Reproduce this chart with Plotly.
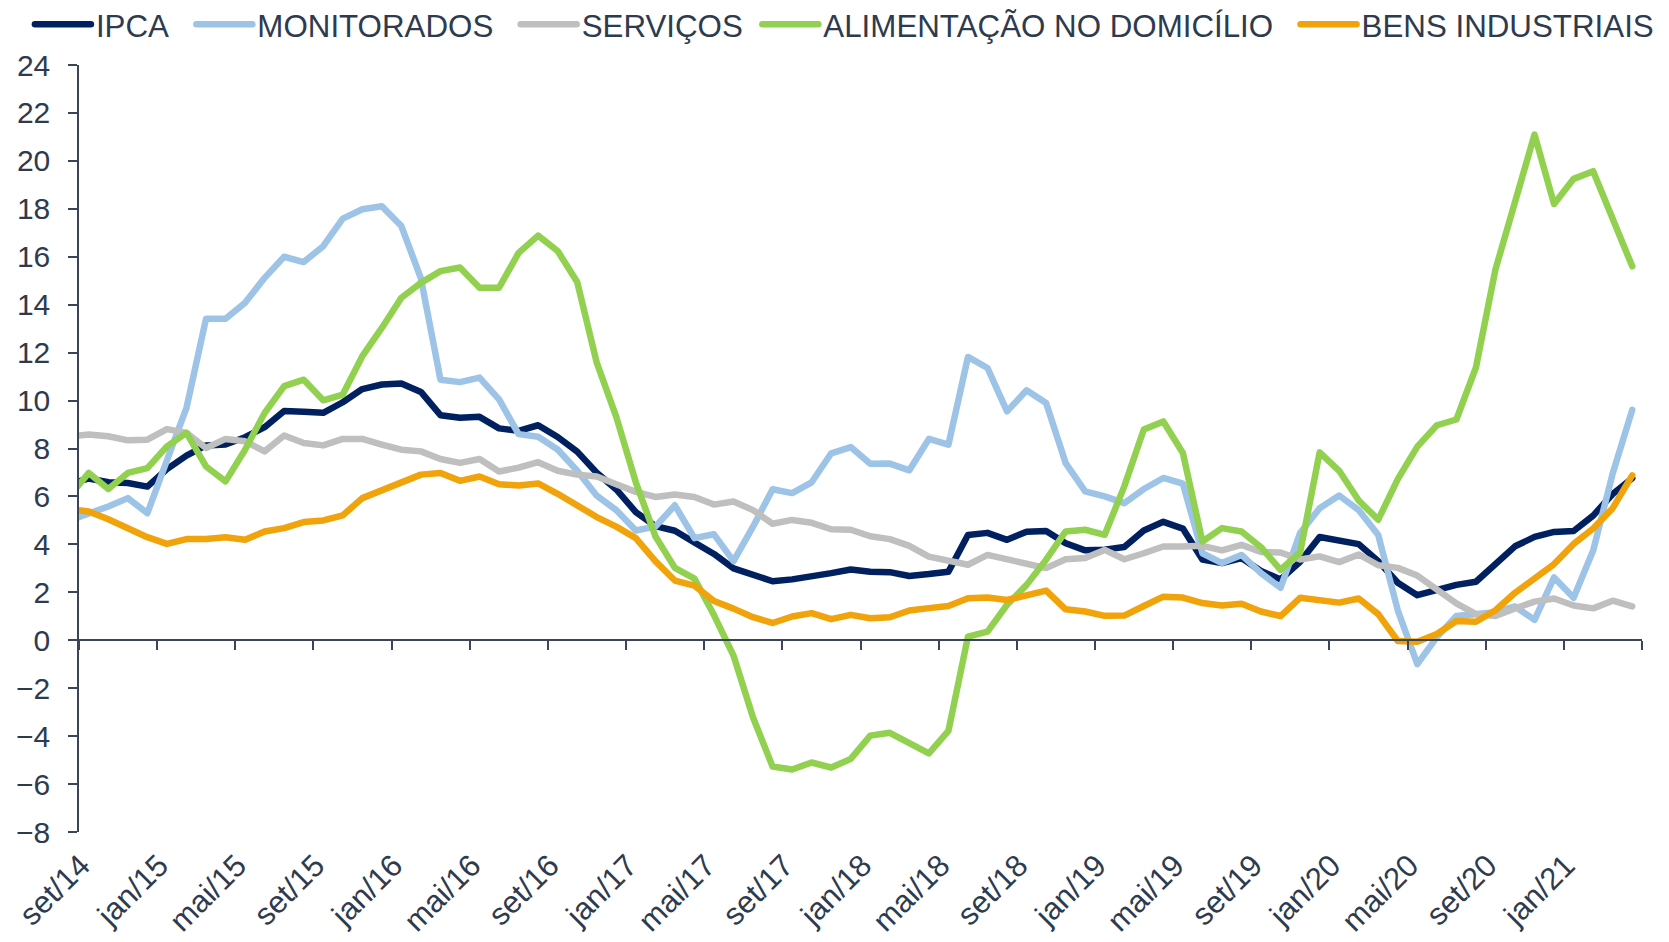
import plotly.graph_objects as go

# ---------------- data ----------------
abrev = ["jan", "fev", "mar", "abr", "mai", "jun", "jul", "ago", "set", "out", "nov", "dez"]
# monthly observations from ago/14 to abr/21
meses = []
_m, _y = 7, 2014
for _ in range(81):
    meses.append(f"{abrev[_m]}/{_y % 100:02d}")
    _m += 1
    if _m == 12:
        _m, _y = 0, _y + 1

ipca = [6.51, 6.75, 6.59, 6.56, 6.41, 7.14, 7.70, 8.13, 8.17, 8.47, 8.89, 9.56, 9.53, 9.49, 9.93, 10.48, 10.67,
        10.71, 10.36, 9.39, 9.28, 9.32, 8.84, 8.74, 8.97, 8.48, 7.87, 6.99, 6.29,
        5.35, 4.76, 4.57, 4.08, 3.60, 3.00, 2.71, 2.46, 2.54, 2.70, 2.80, 2.95,
        2.86, 2.84, 2.68, 2.76, 2.86, 4.39, 4.48, 4.19, 4.53, 4.56, 4.05, 3.75,
        3.78, 3.89, 4.58, 4.94, 4.66, 3.37, 3.22, 3.43, 2.89, 2.54, 3.27, 4.31,
        4.19, 4.01, 3.30, 2.40, 1.88, 2.13, 2.31, 2.44, 3.14, 3.92, 4.31, 4.52,
        4.56, 5.20, 6.10, 6.76]

monitorados = [5.0, 5.28, 5.58, 5.93, 5.3, 7.5, 9.69, 13.41, 13.41, 14.08, 15.12, 16.0, 15.78, 16.44, 17.59, 17.98,
               18.11, 17.28, 15.1, 10.87, 10.77, 10.96, 10.05, 8.6, 8.49, 7.96, 7.07, 6.03, 5.43, 4.58, 4.74,
               5.63, 4.26, 4.42, 3.3, 4.74, 6.3, 6.14, 6.59, 7.8, 8.06, 7.36, 7.37, 7.09, 8.40, 8.16, 11.82,
               11.36, 9.55, 10.43, 9.9, 7.39, 6.21, 6.0, 5.72, 6.31, 6.77, 6.53, 3.63, 3.22, 3.56, 2.8, 2.19,
               4.47, 5.51, 6.04, 5.43, 4.39, 1.25, -1.0, 0.13, 1.01, 1.09, 1.17, 1.41, 0.85, 2.62, 1.77, 3.74,
               6.96, 9.61]

servicos = [8.5, 8.58, 8.51, 8.34, 8.37, 8.81, 8.65, 8.02, 8.40, 8.30, 7.88, 8.54, 8.23, 8.13, 8.40, 8.40, 8.16,
            7.95, 7.88, 7.56, 7.40, 7.56, 7.04, 7.2, 7.43, 7.07, 6.91, 6.83, 6.51, 6.19, 5.98, 6.08, 5.98,
            5.66, 5.79, 5.43, 4.86, 5.02, 4.9, 4.63, 4.61, 4.34, 4.22, 3.94, 3.49, 3.33, 3.15, 3.56, 3.36,
            3.22, 3.01, 3.38, 3.43, 3.77, 3.38, 3.63, 3.91, 3.91, 3.94, 3.75, 3.98, 3.68, 3.66, 3.37, 3.5,
            3.26, 3.58, 3.13, 3.02, 2.7, 2.14, 1.54, 1.09, 1.01, 1.33, 1.61, 1.74, 1.45, 1.33, 1.65, 1.41]

alimentacao = [6.0, 6.98, 6.31, 6.98, 7.18, 8.09, 8.65, 7.25, 6.63, 7.95, 9.48, 10.6, 10.87, 10.01, 10.25, 11.85,
               13.03, 14.29, 14.91, 15.4, 15.55, 14.71, 14.71, 16.16, 16.88, 16.24, 14.95, 11.58, 9.32, 6.59,
               4.34, 3.02, 2.57, 1.05, -0.64, -3.22, -5.27, -5.39, -5.10, -5.31, -4.95, -3.98, -3.86, -4.3,
               -4.72, -3.78, 0.15, 0.36, 1.48, 2.31, 3.36, 4.54, 4.61, 4.40, 6.42, 8.79, 9.13, 7.81, 4.12,
               4.68, 4.54, 3.88, 2.94, 3.66, 7.84, 7.07, 5.83, 5.03, 6.72, 8.08, 8.97, 9.21, 11.38, 15.47,
               18.36, 21.1, 18.2, 19.25, 19.57, 17.64, 15.6]

bens_industriais = [5.47, 5.37, 5.05, 4.64, 4.30, 4.02, 4.22, 4.22, 4.30, 4.19, 4.54, 4.68, 4.93, 5.0, 5.21, 5.93,
                    6.28, 6.63, 6.91, 6.98, 6.65, 6.83, 6.51, 6.46, 6.54, 6.11, 5.63, 5.14, 4.74, 4.26, 3.3,
                    2.49, 2.28, 1.64, 1.32, 0.96, 0.72, 0.99, 1.13, 0.88, 1.06, 0.92, 0.96, 1.24, 1.34, 1.43,
                    1.75, 1.78, 1.68, 1.89, 2.07, 1.29, 1.20, 1.02, 1.03, 1.43, 1.82, 1.78, 1.55, 1.45, 1.52,
                    1.2, 1.01, 1.77, 1.65, 1.57, 1.74, 1.09, -0.03, -0.06, 0.26, 0.8, 0.77, 1.25, 1.98, 2.54,
                    3.18, 4.02, 4.66, 5.51, 6.88]

series = [
    ("IPCA", ipca, "#002060", "legend"),
    ("MONITORADOS", monitorados, "#9DC3E6", "legend"),
    ("SERVIÇOS", servicos, "#BFBFBF", "legend"),
    ("ALIMENTAÇÃO NO DOMICÍLIO", alimentacao, "#92D050", "legend2"),
    ("BENS INDUSTRIAIS", bens_industriais, "#F0A30A", "legend2"),
]

# month k sits in the middle of its slot; slot 0 begins at set/14
x_pos = [i - 0.5 for i in range(len(meses))]
tick_pos = [i - 1 for i in range(1, len(meses), 4)]
tick_txt = [meses[i] for i in range(1, len(meses), 4)]
n_slots = len(meses) - 1

TXT = "#2E3B4E"
AX = "#3A4657"
FONT = "Liberation Sans, Arial, sans-serif"
GAP = "\u00a0\u00a0"

fig = go.Figure()
for j, (name, vals, col, leg) in enumerate(series):
    label = name + (GAP if j < len(series) - 1 else "")
    fig.add_trace(go.Scatter(x=x_pos, y=vals, name=label, mode="lines", legend=leg,
                             line=dict(color=col, width=6.5)))
# carrier for the bottom label axis
fig.add_trace(go.Scatter(x=[None], y=[None], xaxis="x2", showlegend=False, hoverinfo="skip"))

leg_common = dict(orientation="h", xanchor="left", y=1.0528, yanchor="middle",
                  font=dict(size=31.3, color=TXT), itemwidth=56, tracegroupgap=0,
                  bgcolor="rgba(0,0,0,0)")

fig.update_layout(
    width=1669, height=942,
    margin=dict(l=79, r=27, t=65, b=110, autoexpand=False),
    paper_bgcolor="white", plot_bgcolor="white",
    font=dict(family=FONT, color=TXT, size=30),
    showlegend=True,
    legend=dict(x=-0.0314, **leg_common),
    legend2=dict(x=0.434, **leg_common),
    xaxis=dict(range=[0, n_slots], anchor="free", position=0.25,
               showline=True, linecolor=AX, linewidth=1.5,
               ticks="outside", ticklen=9, tickwidth=1.5, tickcolor=AX,
               tickvals=list(range(0, n_slots + 1, 4)), showticklabels=False,
               showgrid=False, zeroline=False),
    xaxis2=dict(range=[0, n_slots], overlaying="x", anchor="y", side="bottom",
                showline=False, ticks="", tickvals=tick_pos, ticktext=tick_txt,
                tickangle=-45, tickfont=dict(size=31, color=TXT),
                ticklabelstandoff=8, ticklabelshift=2,
                showgrid=False, zeroline=False),
    yaxis=dict(range=[-8, 24], tickvals=list(range(-8, 25, 2)),
               showline=True, linecolor=AX, linewidth=1.5,
               ticks="outside", ticklen=9, tickwidth=1.5, tickcolor=AX,
               tickfont=dict(size=30, color=TXT), ticklabelstandoff=12,
               showgrid=False, zeroline=False),
)

post = """
document.body.style.margin='0';
document.body.style.overflow='hidden';
document.querySelectorAll('path.js-line').forEach(function(p){
  p.style.strokeLinejoin='round'; p.style.strokeLinecap='round';
});
"""
fig.write_html("out.html", post_script=post, config={"displayModeBar": False})
